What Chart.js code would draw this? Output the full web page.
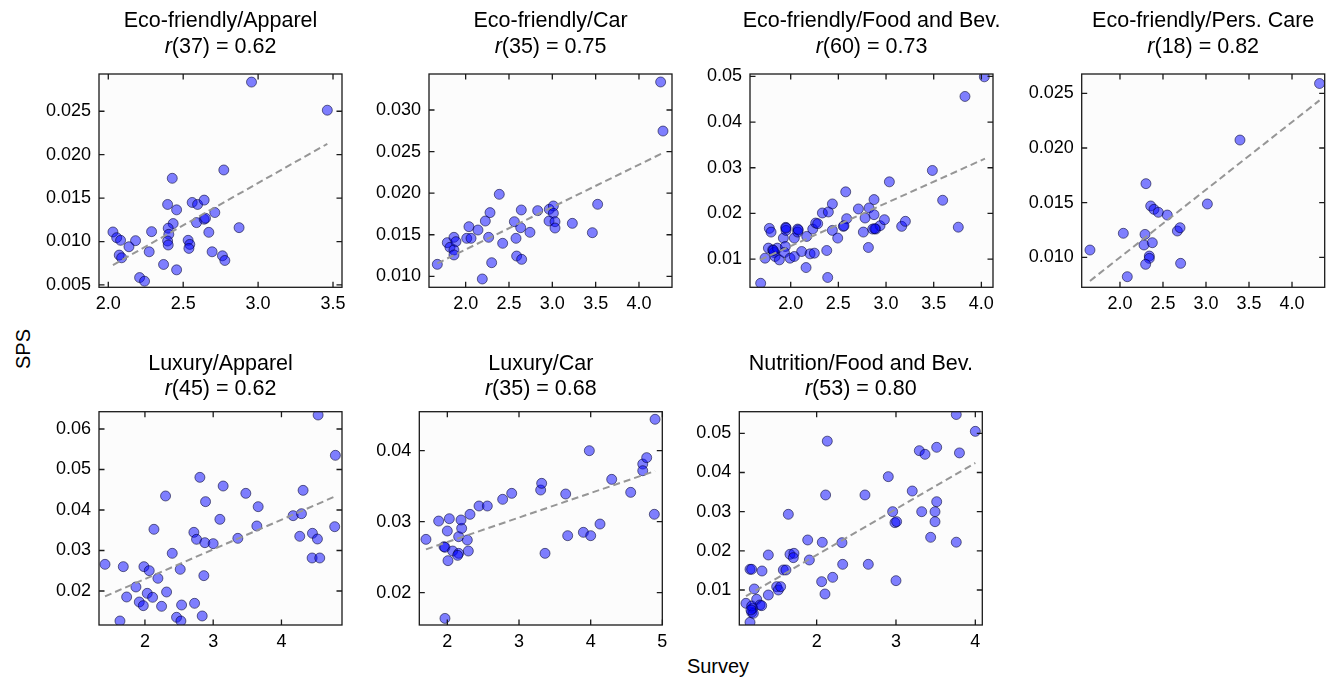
<!DOCTYPE html>
<html>
<head>
<meta charset="utf-8">
<title>SPS vs Survey</title>
<script src="https://cdn.jsdelivr.net/npm/chart.js@4.4.1/dist/chart.umd.min.js"></script>
<style>
  html, body { margin: 0; padding: 0; background: #fff; overflow: hidden; }
  #fig { position: relative; width: 1326px; height: 679px; overflow: hidden; }
  #fig canvas { position: absolute; }
  .fig-label { position: absolute; font-family: "Liberation Sans", Arial, sans-serif; font-size: 20px; line-height: 20px; color: #000; white-space: nowrap; }
</style>
</head>
<body>
<div id="fig">
  <div class="fig-label" id="ylab">SPS</div>
  <div class="fig-label" id="xlab">Survey</div>
</div>
<script>
// ---- Eco-friendly / Apparel ----
const ecoApparelSurvey = [2.956, 3.462, 2.771, 2.427, 2.396, 2.456, 2.560, 2.596, 2.640, 2.711,
  2.433, 2.400, 2.404, 2.396, 2.400, 2.589, 2.640, 2.649, 2.671, 2.873,
  2.533, 2.544, 2.538, 2.289, 2.273, 2.693, 2.762, 2.778, 2.369, 2.456,
  2.209, 2.242, 2.031, 2.056, 2.082, 2.182, 2.138, 2.073, 2.089];
const ecoApparelSPS = [0.02836, 0.02512, 0.01824, 0.01728, 0.01427, 0.01365, 0.01450, 0.01427, 0.01477, 0.01334,
  0.01207, 0.01153, 0.01083, 0.01006, 0.00960, 0.01218, 0.01257, 0.01268, 0.01106, 0.01160,
  0.01014, 0.00967, 0.00921, 0.01114, 0.00882, 0.00882, 0.00836, 0.00782, 0.00736, 0.00674,
  0.00585, 0.00543, 0.01110, 0.01044, 0.01014, 0.01010, 0.00940, 0.00844, 0.00813];
const ecoApparelFitX = [2.031, 3.462];
const ecoApparelFitY = [0.00729, 0.02124];

// ---- Eco-friendly / Car ----
const ecoCarSurvey = [1.673, 1.788, 1.819, 1.865, 1.888, 1.865, 1.865, 2.012, 2.062, 2.038,
  2.142, 2.227, 2.281, 2.265, 2.300, 2.192, 2.388, 2.427, 2.562, 2.581,
  2.588, 2.646, 2.642, 2.635, 2.742, 2.831, 2.965, 3.012, 3.012, 2.962,
  3.031, 3.031, 3.231, 3.523, 3.462, 4.250, 4.277];
const ecoCarSPS = [0.01144, 0.01405, 0.01349, 0.01469, 0.01417, 0.01317, 0.01257, 0.01457, 0.01457, 0.01597,
  0.01557, 0.01665, 0.01766, 0.01469, 0.01164, 0.00968, 0.01986, 0.01397, 0.01657, 0.01457,
  0.01244, 0.01204, 0.01798, 0.01585, 0.01529, 0.01790, 0.01806, 0.01846, 0.01758, 0.01665,
  0.01657, 0.01581, 0.01637, 0.01866, 0.01525, 0.03337, 0.02747];
const ecoCarFitX = [1.673, 4.277];
const ecoCarFitY = [0.01156, 0.02484];

// ---- Eco-friendly / Food and Bev. ----
const ecoFoodSurvey = [1.685, 1.731, 1.776, 1.794, 1.766, 1.811, 1.825, 1.836, 1.860, 1.881,
  1.923, 1.948, 1.951, 1.944, 1.934, 1.993, 2.038, 2.038, 2.073, 2.073,
  2.115, 2.168, 2.161, 2.231, 2.262, 2.283, 2.203, 2.248, 2.332, 2.395,
  2.437, 2.437, 2.378, 2.388, 2.493, 2.552, 2.577, 2.587, 2.710, 2.780,
  2.822, 2.874, 2.874, 2.762, 2.815, 2.860, 2.892, 2.937, 2.983, 3.035,
  3.164, 3.203, 3.486, 3.594, 3.828, 4.031, 3.758, 1.818, 1.951, 2.080,
  2.559, 2.881];
const ecoFoodSPS = [0.00473, 0.01022, 0.01674, 0.01593, 0.01242, 0.01205, 0.01147, 0.01059, 0.01242, 0.00985,
  0.01462, 0.01696, 0.01630, 0.01278, 0.01147, 0.01022, 0.01059, 0.01462, 0.01659, 0.01593,
  0.01168, 0.01498, 0.00817, 0.01659, 0.01791, 0.01777, 0.01117, 0.01132, 0.02011, 0.02033,
  0.02209, 0.01630, 0.01190, 0.00600, 0.01462, 0.01718, 0.02473, 0.01886, 0.02099, 0.01901,
  0.02121, 0.02304, 0.01974, 0.01593, 0.01256, 0.01659, 0.01659, 0.01733, 0.01864, 0.02692,
  0.01718, 0.01828, 0.02941, 0.02289, 0.04560, 0.04990, 0.01700, 0.01190, 0.01680, 0.01640,
  0.01730, 0.01668];
const ecoFoodFitX = [1.678, 4.038];
const ecoFoodFitY = [0.00985, 0.03200];

// ---- Eco-friendly / Pers. Care ----
const ecoCareSurvey = [1.651, 2.039, 2.085, 2.302, 2.357, 2.395, 2.446, 2.550, 2.291, 2.279,
  2.376, 2.341, 2.341, 2.298, 2.667, 2.698, 2.705, 3.016, 3.395, 4.320];
const ecoCareSPS = [0.01067, 0.01220, 0.00823, 0.01674, 0.01470, 0.01439, 0.01412, 0.01387, 0.01210, 0.01113,
  0.01134, 0.01012, 0.00991, 0.00936, 0.01241, 0.01271, 0.00945, 0.01488, 0.02073, 0.02590];
const ecoCareFitX = [1.651, 4.320];
const ecoCareFitY = [0.00784, 0.02436];

// ---- Luxury / Apparel ----
const luxApparelSurvey = [1.415, 1.683, 1.634, 1.732, 1.868, 1.917, 1.976, 1.985, 2.063, 2.034,
  2.112, 2.132, 2.190, 2.244, 2.302, 2.317, 2.400, 2.463, 2.517, 2.537,
  2.527, 2.727, 2.717, 2.756, 2.805, 2.888, 2.878, 2.863, 2.839, 3.000,
  3.098, 3.146, 3.361, 3.478, 3.659, 3.639, 4.171, 4.293, 4.317, 4.268,
  4.454, 4.527, 4.449, 4.561, 4.537, 4.790, 4.780];
const luxApparelSPS = [0.02658, 0.02601, 0.01259, 0.01852, 0.02099, 0.01728, 0.01638, 0.02601, 0.02502, 0.01942,
  0.01844, 0.03523, 0.02313, 0.01621, 0.04346, 0.01975, 0.02930, 0.01350, 0.02535, 0.01654,
  0.01259, 0.01695, 0.03448, 0.03276, 0.04806, 0.04206, 0.03193, 0.02379, 0.01383, 0.03169,
  0.03769, 0.04592, 0.03300, 0.04411, 0.04082, 0.03605, 0.03860, 0.03909, 0.04485, 0.03350,
  0.03424, 0.03284, 0.02815, 0.02815, 0.06345, 0.05350, 0.03588];
const luxApparelFitX = [1.415, 4.790];
const luxApparelFitY = [0.01867, 0.04338];

// ---- Luxury / Car ----
const luxCarSurvey = [1.702, 1.879, 2.028, 2.000, 1.953, 1.967, 2.074, 2.009, 2.158, 2.144,
  2.158, 2.200, 2.191, 2.279, 2.293, 2.316, 2.442, 2.558, 2.772, 2.898,
  3.302, 3.316, 3.363, 3.651, 3.679, 3.898, 4.000, 3.981, 4.130, 4.293,
  4.558, 4.726, 4.726, 4.781, 1.967, 4.898, 4.888];
const luxCarSPS = [0.02751, 0.03009, 0.03042, 0.02869, 0.02648, 0.02639, 0.02587, 0.02451, 0.02554, 0.02526,
  0.02789, 0.02906, 0.03024, 0.02742, 0.02587, 0.03103, 0.03221, 0.03221, 0.03315, 0.03399,
  0.03446, 0.03540, 0.02554, 0.03390, 0.02803, 0.02850, 0.02803, 0.04000, 0.02967, 0.03596,
  0.03413, 0.03812, 0.03718, 0.03902, 0.01638, 0.04442, 0.03104];
const luxCarFitX = [1.702, 4.898];
const luxCarFitY = [0.02610, 0.03714];

// ---- Nutrition / Food and Bev. ----
const nutFoodSurvey = [1.109, 1.160, 1.181, 1.193, 1.202, 1.181, 1.160, 1.181, 1.214, 1.244,
  1.286, 1.307, 1.311, 1.391, 1.391, 1.496, 1.517, 1.546, 1.580, 1.613,
  1.643, 1.664, 1.714, 1.706, 1.887, 1.908, 2.071, 2.063, 2.105, 2.113,
  2.134, 2.202, 2.319, 2.328, 2.609, 2.651, 2.903, 2.958, 2.987, 3.008,
  3.000, 3.205, 3.294, 3.366, 3.513, 3.324, 3.513, 3.492, 3.492, 3.437,
  3.760, 3.800, 4.000, 3.760, 1.172];
const nutFoodSPS = [0.00660, 0.00174, 0.00430, 0.00532, 0.00404, 0.00591, 0.01528, 0.01528, 0.01026, 0.00762,
  0.00617, 0.00600, 0.01485, 0.01894, 0.00872, 0.01085, 0.01000, 0.01085, 0.01511, 0.01511,
  0.02932, 0.01911, 0.01936, 0.01826, 0.02277, 0.01766, 0.02217, 0.01213, 0.00898, 0.03426,
  0.04800, 0.01323, 0.02209, 0.01655, 0.03426, 0.01655, 0.03894, 0.03000, 0.02719, 0.02745,
  0.01238, 0.03527, 0.04557, 0.04464, 0.04643, 0.02999, 0.03254, 0.02999, 0.02744, 0.02345,
  0.05480, 0.04500, 0.05050, 0.02220, 0.00490];
const nutFoodFitX = [1.109, 4.000];
const nutFoodFitY = [0.00844, 0.04243];

// ---- tick values and labels ----
const ticksHalf2to35 = [2.0, 2.5, 3.0, 3.5];
const labelsHalf2to35 = ['2.0', '2.5', '3.0', '3.5'];
const ticksHalf2to4 = [2.0, 2.5, 3.0, 3.5, 4.0];
const labelsHalf2to4 = ['2.0', '2.5', '3.0', '3.5', '4.0'];
const ticksInt2to4 = [2, 3, 4];
const labelsInt2to4 = ['2', '3', '4'];
const ticksInt2to5 = [2, 3, 4, 5];
const labelsInt2to5 = ['2', '3', '4', '5'];

const spsTicksApparel = [0.005, 0.010, 0.015, 0.020, 0.025];
const spsLabelsApparel = ['0.005', '0.010', '0.015', '0.020', '0.025'];
const spsTicksCar = [0.010, 0.015, 0.020, 0.025, 0.030];
const spsLabelsCar = ['0.010', '0.015', '0.020', '0.025', '0.030'];
const spsTicksFood = [0.01, 0.02, 0.03, 0.04, 0.05];
const spsLabelsFood = ['0.01', '0.02', '0.03', '0.04', '0.05'];
const spsTicksCare = [0.010, 0.015, 0.020, 0.025];
const spsLabelsCare = ['0.010', '0.015', '0.020', '0.025'];
const spsTicksLuxApparel = [0.02, 0.03, 0.04, 0.05, 0.06];
const spsLabelsLuxApparel = ['0.02', '0.03', '0.04', '0.05', '0.06'];
const spsTicksLuxCar = [0.02, 0.03, 0.04];
const spsLabelsLuxCar = ['0.02', '0.03', '0.04'];

// ---- panel contents ----
const panels = [
  { name: 'Eco-friendly/Apparel', df: 37, r: '0.62', xs: ecoApparelSurvey, ys: ecoApparelSPS, fx: ecoApparelFitX, fy: ecoApparelFitY,
    xt: ticksHalf2to35, xl: labelsHalf2to35, yt: spsTicksApparel, yl: spsLabelsApparel, xr: [1.938, 3.560], yr: [0.00473, 0.02929] },
  { name: 'Eco-friendly/Car', df: 35, r: '0.75', xs: ecoCarSurvey, ys: ecoCarSPS, fx: ecoCarFitX, fy: ecoCarFitY,
    xt: ticksHalf2to4, xl: labelsHalf2to4, yt: spsTicksCar, yl: spsLabelsCar, xr: [1.577, 4.381], yr: [0.00868, 0.03433] },
  { name: 'Eco-friendly/Food and Bev.', df: 60, r: '0.73', xs: ecoFoodSurvey, ys: ecoFoodSPS, fx: ecoFoodFitX, fy: ecoFoodFitY,
    xt: ticksHalf2to4, xl: labelsHalf2to4, yt: spsTicksFood, yl: spsLabelsFood, xr: [1.573, 4.122], yr: [0.00385, 0.05051] },
  { name: 'Eco-friendly/Pers. Care', df: 18, r: '0.82', xs: ecoCareSurvey, ys: ecoCareSPS, fx: ecoCareFitX, fy: ecoCareFitY,
    xt: ticksHalf2to4, xl: labelsHalf2to4, yt: spsTicksCare, yl: spsLabelsCare, xr: [1.555, 4.380], yr: [0.00726, 0.02677] },
  { name: 'Luxury/Apparel', df: 45, r: '0.62', xs: luxApparelSurvey, ys: luxApparelSPS, fx: luxApparelFitX, fy: luxApparelFitY,
    xt: ticksInt2to4, xl: labelsInt2to4, yt: spsTicksLuxApparel, yl: spsLabelsLuxApparel, xr: [1.327, 4.887], yr: [0.0116, 0.06427] },
  { name: 'Luxury/Car', df: 35, r: '0.68', xs: luxCarSurvey, ys: luxCarSPS, fx: luxCarFitX, fy: luxCarFitY,
    xt: ticksInt2to5, xl: labelsInt2to5, yt: spsTicksLuxCar, yl: spsLabelsLuxCar, xr: [1.609, 4.999], yr: [0.01545, 0.04549] },
  { name: 'Nutrition/Food and Bev.', df: 53, r: '0.80', xs: nutFoodSurvey, ys: nutFoodSPS, fx: nutFoodFitX, fy: nutFoodFitY,
    xt: ticksInt2to4, xl: labelsInt2to4, yt: spsTicksFood, yl: spsLabelsFood, xr: [1.025, 4.088], yr: [0.00106, 0.05552] }
];

// ---- grid placement of each plot box (px) ----
const BOX_W = 243, BOX_H = 213.3;
const boxes = [
  { left: 99,     top: 74,    t1: 46.7, t2: 20.9 },
  { left: 429,    top: 74,    t1: 46.7, t2: 20.9 },
  { left: 750,    top: 74,    t1: 46.7, t2: 20.9 },
  { left: 1081.7, top: 74,    t1: 46.7, t2: 20.9 },
  { left: 99,     top: 411.7, t1: 42.0, t2: 17.0 },
  { left: 419.3,  top: 411.7, t1: 42.0, t2: 17.0 },
  { left: 739.3,  top: 411.7, t1: 42.0, t2: 17.0 }
];

const FONT = '"Liberation Sans", Arial, sans-serif';
const TICK_SIZE = 18;
const TITLE_SIZE = 21.5;

// Frame with inward ticks on all four sides, plus a light plot background
const framePlugin = {
  id: 'frame',
  beforeDraw(chart) {
    const { ctx, chartArea: a } = chart;
    ctx.save();
    ctx.fillStyle = '#fcfcfc';
    ctx.fillRect(a.left, a.top, a.right - a.left, a.bottom - a.top);
    ctx.restore();
  },
  afterDraw(chart) {
    const { ctx, chartArea: a, scales } = chart;
    const len = 5.5;
    ctx.save();
    ctx.strokeStyle = '#1a1a1a';
    ctx.lineWidth = 1.3;
    ctx.beginPath();
    scales.x.ticks.forEach(t => {
      const px = scales.x.getPixelForValue(t.value);
      ctx.moveTo(px, a.bottom); ctx.lineTo(px, a.bottom - len);
      ctx.moveTo(px, a.top); ctx.lineTo(px, a.top + len);
    });
    scales.y.ticks.forEach(t => {
      const py = scales.y.getPixelForValue(t.value);
      ctx.moveTo(a.left, py); ctx.lineTo(a.left + len, py);
      ctx.moveTo(a.right, py); ctx.lineTo(a.right - len, py);
    });
    ctx.stroke();
    ctx.strokeRect(a.left, a.top, a.right - a.left, a.bottom - a.top);
    ctx.restore();
  }
};

// Two-line panel heading: category name, then italic r(df) = value
const headingPlugin = {
  id: 'heading',
  afterDraw(chart, args, opts) {
    const { ctx, chartArea: a } = chart;
    const cx = (a.left + a.right) / 2;
    const normal = `${TITLE_SIZE}px ${FONT}`;
    const italic = `italic ${TITLE_SIZE}px ${FONT}`;
    ctx.save();
    ctx.fillStyle = '#000';
    ctx.textBaseline = 'alphabetic';
    ctx.textAlign = 'center';
    ctx.font = normal;
    ctx.fillText(opts.name, cx, a.top - opts.t1);
    const rest = `(${opts.df}) = ${opts.r}`;
    ctx.font = italic;
    const wr = ctx.measureText('r').width;
    ctx.font = normal;
    const wRest = ctx.measureText(rest).width;
    const x0 = cx - (wr + wRest) / 2;
    ctx.textAlign = 'left';
    ctx.font = italic;
    ctx.fillText('r', x0, a.top - opts.t2);
    ctx.font = normal;
    ctx.fillText(rest, x0 + wr, a.top - opts.t2);
    ctx.restore();
  }
};

const fig = document.getElementById('fig');

panels.forEach((p, i) => {
  const b = boxes[i];
  const cLeft = Math.floor(b.left) - 72;
  const cTop = Math.floor(b.top) - 72;
  const padL = b.left - cLeft;
  const padT = b.top - cTop;
  const padB = 40;
  const w = Math.ceil(padL + BOX_W + 30);
  const h = Math.ceil(padT + BOX_H + padB);
  const padR = w - padL - BOX_W;
  const padBottom = h - padT - BOX_H;

  const cv = document.createElement('canvas');
  cv.width = w; cv.height = h;
  cv.style.left = cLeft + 'px';
  cv.style.top = cTop + 'px';
  cv.style.width = w + 'px';
  cv.style.height = h + 'px';
  fig.appendChild(cv);

  new Chart(cv, {
    type: 'scatter',
    data: {
      datasets: [
        {
          data: p.xs.map((x, k) => ({ x, y: p.ys[k] })),
          backgroundColor: 'rgba(0,0,255,0.5)',
          borderColor: 'rgba(0,0,40,0.55)',
          borderWidth: 1,
          pointRadius: 5,
          clip: 0,
          order: 2
        },
        {
          data: p.fx.map((x, k) => ({ x, y: p.fy[k] })),
          showLine: true,
          borderColor: 'rgba(150,150,150,1)',
          borderWidth: 2,
          borderDash: [7, 4],
          pointRadius: 0,
          fill: false,
          clip: 0,
          order: 1
        }
      ]
    },
    plugins: [framePlugin, headingPlugin],
    options: {
      responsive: false,
      animation: false,
      events: [],
      devicePixelRatio: 1,
      layout: { autoPadding: false, padding: { left: 0, top: padT, right: padR, bottom: 0 } },
      plugins: {
        legend: { display: false },
        tooltip: { enabled: false },
        title: { display: false },
        heading: { name: p.name, df: p.df, r: p.r, t1: b.t1, t2: b.t2 }
      },
      scales: {
        x: {
          type: 'linear',
          position: 'bottom',
          min: p.xr[0], max: p.xr[1],
          grid: { display: false, drawTicks: false },
          border: { display: false },
          ticks: {
            autoSkip: false, maxRotation: 0, padding: 6, color: '#000',
            font: { family: FONT, size: TICK_SIZE },
            callback: v => p.xl[p.xt.indexOf(v)]
          },
          afterBuildTicks: ax => { ax.ticks = p.xt.map(v => ({ value: v })); },
          afterFit: ax => { ax.height = padBottom; }
        },
        y: {
          type: 'linear',
          position: 'left',
          min: p.yr[0], max: p.yr[1],
          grid: { display: false, drawTicks: false },
          border: { display: false },
          ticks: {
            autoSkip: false, padding: 8, color: '#000',
            font: { family: FONT, size: TICK_SIZE },
            callback: v => p.yl[p.yt.indexOf(v)]
          },
          afterBuildTicks: ax => { ax.ticks = p.yt.map(v => ({ value: v })); },
          afterFit: ax => { ax.width = padL; }
        }
      }
    }
  });
});

// Shared axis labels
const ylab = document.getElementById('ylab');
ylab.style.left = (23 - 20) + 'px';
ylab.style.top = (349 - 10) + 'px';
ylab.style.transformOrigin = '20px 10px';
ylab.style.width = '40px';
ylab.style.textAlign = 'center';
ylab.style.transform = 'rotate(-90deg)';
const xlab = document.getElementById('xlab');
xlab.style.left = (718 - 40) + 'px';
xlab.style.width = '80px';
xlab.style.textAlign = 'center';
xlab.style.top = '656px';
</script>
</body>
</html>
